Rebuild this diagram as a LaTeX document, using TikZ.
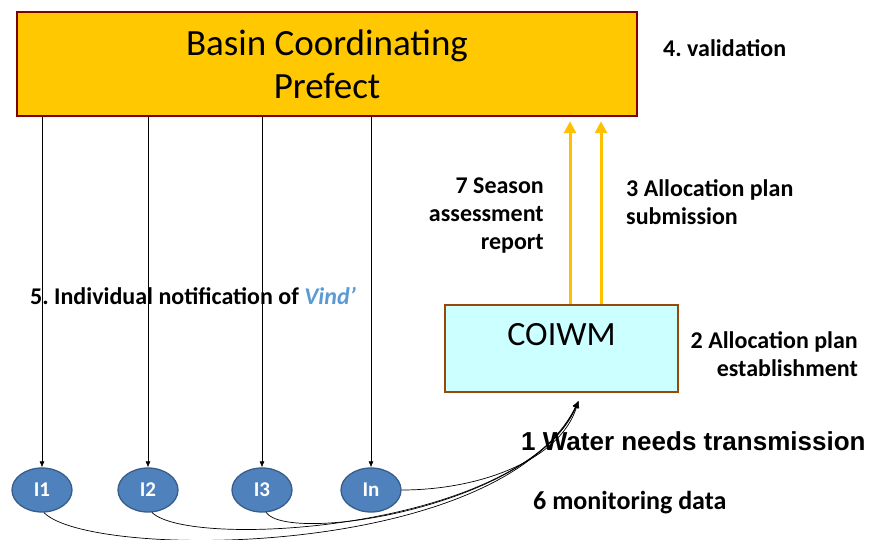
\documentclass[tikz,border=0pt]{standalone}
\usepackage{fontspec}
\setmainfont{Carlito}
\newfontfamily\arialfont{Liberation Sans}
\usepackage{xcolor}
\usepackage{tikz}
\usetikzlibrary{arrows.meta,positioning,shapes.geometric,calc}
\definecolor{prefectGold}{HTML}{FFC800}
\definecolor{prefectEdge}{HTML}{7F0000}
\definecolor{coiwmFill}{HTML}{CCFFFF}
\definecolor{coiwmEdge}{HTML}{984807}
\definecolor{userFill}{HTML}{4F81BD}
\definecolor{userEdge}{HTML}{385D8A}
\definecolor{flowGold}{HTML}{FFC000}
\definecolor{vindBlue}{HTML}{5B9BD5}
\newcommand\lblfont{\fontsize{24}{28}\selectfont\bfseries}
\frenchspacing

\begin{document}
\begin{tikzpicture}[x=1pt,y=-1pt,
  userNode/.style={ellipse, draw=userEdge, fill=userFill, line width=1.3pt, minimum width=60pt, minimum height=44pt, inner sep=0pt, text=white, font=\fontsize{21}{24}\selectfont\bfseries},
  notify/.style={-{Latex[length=6pt,width=5pt]}, line width=0.6pt, color=black},
  report/.style={-{Triangle[length=12pt,width=12pt]}, line width=3pt, color=flowGold, shorten >=4pt},
  feed/.style={-{Latex[length=7pt,width=6pt]}, line width=0.7pt, color=black},
  lbl/.style={font=\lblfont, inner sep=0pt, text=black}]
  \useasboundingbox (0,0) rectangle (873,540);

  % actors
  \node[draw=prefectEdge, fill=prefectGold, line width=2.5pt, minimum width=620pt, minimum height=104pt, align=center, font=\fontsize{37}{43}\selectfont] (prefect) at (327,64) {Basin Coordinating\\Prefect};
  \node[draw=coiwmEdge, fill=coiwmFill, line width=1.8pt, minimum width=233pt, minimum height=87pt, text height=26pt, text depth=33pt, font=\fontsize{34}{40}\selectfont] (coiwm) at (561.5,348.5) {COIWM};
  \node[userNode] (i1) at (42,490) {I1};
  \node[userNode] (i2) at (148,490) {I2};
  \node[userNode] (i3) at (262,490) {I3};
  \node[userNode] (in) at (371,490) {In};
  \coordinate (tip) at ($(coiwm.south)+(17,8)$);

  % notifications
  \foreach \u in {i1,i2,i3,in}
    \draw[notify] (prefect.south -| \u) -- (\u.north);

  % reports to the prefect
  \draw[report] (coiwm.north -| 570,0) -- (prefect.south -| 570,0);
  \draw[report] (coiwm.north -| 601,0) -- (prefect.south -| 601,0);

  % water needs and monitoring data
  \draw[feed] (in.east) .. controls (480,490) and (560,460) .. (tip);
  \draw[feed] (i1.-85) .. controls (90,560) and (500,560) .. (tip);
  \draw[feed] (i2.-80) .. controls (190,550) and (520,530) .. (tip);
  \draw[feed] (i3.-80) .. controls (290,545) and (535,505) .. (tip);

  % labels
  \node[lbl, anchor=west] (validation) at (663,48) {4. validation};
  \node[lbl, anchor=east, align=right] (seasonlbl) at (544,216) {7 Season\\assessment\\report};
  \node[lbl, anchor=west, align=left] (submitlbl) at (626,202) {3 Allocation plan\\submission};
  \node[lbl, anchor=east, align=right] (planlbl) at (858,354) {2 Allocation plan\\establishment};
  \node[lbl, anchor=west] (notifylbl) at (30,296) {5. Individual notification of \textcolor{vindBlue}{\itshape Vind'}};
  \node[anchor=west, inner sep=0pt, font=\arialfont\fontsize{26}{30}\selectfont\bfseries] (needslbl) at (521,441) {1 Water needs transmission};
  \node[lbl, anchor=west, font=\fontsize{26}{30}\selectfont\bfseries] (monitorlbl) at (533,503) {6 monitoring data};
\end{tikzpicture}
\end{document}
